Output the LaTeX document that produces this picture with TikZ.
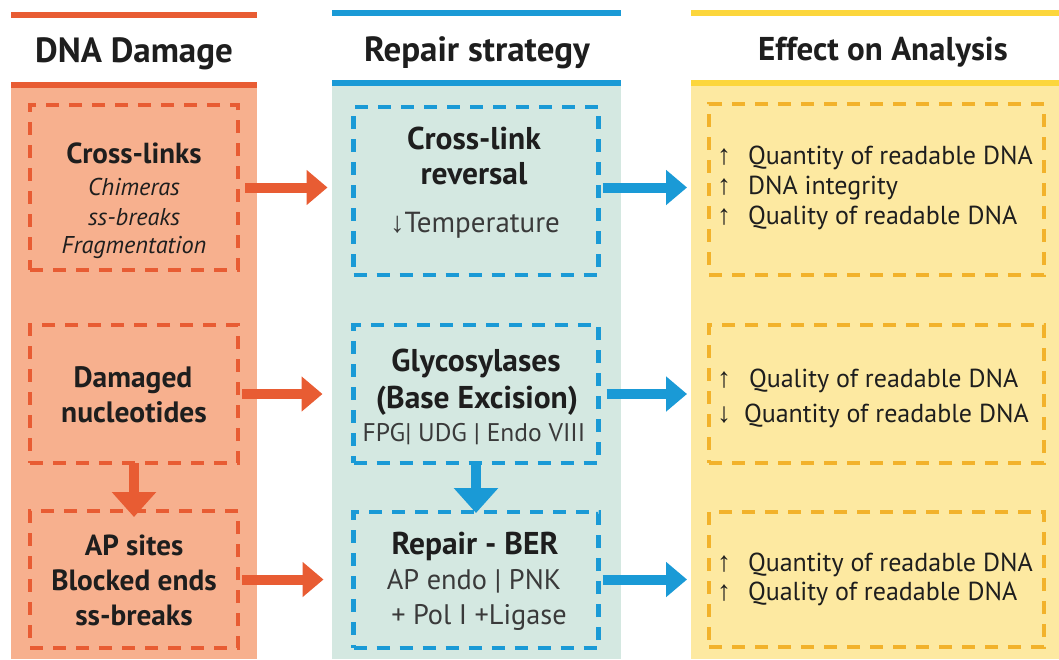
\documentclass[tikz,border=0pt]{standalone}
\usepackage{fontspec}
\setmainfont{PT Sans}
\newfontfamily\arrowfont{Liberation Sans}
\usetikzlibrary{arrows.meta,calc}
\definecolor{orangeline}{HTML}{E85C33}
\definecolor{leftfill}{HTML}{F7B08E}
\definecolor{blueline}{HTML}{1A9AD6}
\definecolor{midfill}{HTML}{D4E8E1}
\definecolor{yellowline}{HTML}{FCD63C}
\definecolor{rightfill}{HTML}{FDE9A1}
\definecolor{yellowdash}{HTML}{F2B22B}
\definecolor{darktext}{HTML}{1E1E1E}
\definecolor{graytext}{HTML}{3A3A3A}
\begin{document}
\begin{tikzpicture}[x=1pt,y=-1pt,
  every node/.style={inner sep=0pt, outer sep=0pt},
  bld/.style={font=\fontsize{#1}{#1}\selectfont\bfseries, text=darktext, text height={0.7*#1pt}, text depth=0pt},
  itl/.style={font=\fontsize{#1}{#1}\selectfont\itshape, text=darktext, text height={0.7*#1pt}, text depth=0pt},
  reg/.style={font=\fontsize{#1}{#1}\selectfont, text=graytext, text height={0.7*#1pt}, text depth=0pt},
  lst/.style={font=\fontsize{26}{28}\selectfont, text=darktext, text height=18.2pt, text depth=0pt, anchor=west},
  dbox/.style={draw, line width=4.5pt, dash pattern=on 13pt off 10pt, minimum width=#1},
  lbox/.style={dbox=208pt, draw=orangeline},
  mbox/.style={dbox=245pt, draw=blueline},
  rbox/.style={dbox=335pt, draw=yellowdash},
  harr/.style={line width=10pt, -{Triangle[length=21pt,width=34pt]}},
  varr/.style={line width=10pt, -{Triangle[length=25pt,width=43pt]}},
  hline/.style={line width=6pt}
]
\newcommand\upar{{\fontsize{28}{28}\arrowfont↑}}
\newcommand\dnar{{\fontsize{28}{28}\arrowfont↓}}
\useasboundingbox (0,0) rectangle (1059,659);
% column fills
\fill[leftfill] (11,88) rectangle (257,659);
\fill[midfill] (332,85) rectangle (621,659);
\fill[rightfill] (691,86) rectangle (1059,659);
% header lines
\draw[hline, orangeline] (11,14.5) -- (257,14.5);
\draw[hline, orangeline] (11,84.5) -- (257,84.5);
\draw[hline, blueline] (332,12.5) -- (621,12.5);
\draw[hline, blueline] (332,82.5) -- (621,82.5);
\draw[hline, yellowline] (691,12.5) -- (1059,12.5);
\draw[hline, yellowline] (691,82.5) -- (1059,82.5);
% headers
\node[bld=35] (h1) at (134,50) {DNA Damage};
\node[bld=35] (h2) at (477,49) {Repair strategy};
\node[bld=33] (h3) at (883,49) {Effect on Analysis};
% boxes
\node[lbox, minimum height=165pt] (lb1) at (134,187.5) {};
\node[lbox, minimum height=138pt] (lb2) at (134,394) {};
\node[lbox, minimum height=137pt] (lb3) at (134,579.5) {};
\node[mbox, minimum height=168pt] (mb1) at (476,191) {};
\node[mbox, minimum height=138pt] (mb2) at (476,394) {};
\node[mbox, minimum height=136pt] (mb3) at (476,580) {};
\node[rbox, minimum height=171pt] (rb1) at (876.5,189.5) {};
\node[rbox, minimum height=138pt] (rb2) at (876.5,394) {};
\node[rbox, minimum height=135pt] (rb3) at (876.5,579.5) {};
% left texts
\node[bld=29] (l1a) at (134,153) {Cross-links};
\node[itl=24.3] (l1b) at (134,187) {Chimeras};
\node[itl=24.3] (l1c) at (134,217) {ss-breaks};
\node[itl=24.3] (l1d) at (134,245) {Fragmentation};
\node[bld=29.5] (l2a) at (133,377) {Damaged};
\node[bld=29.5] (l2b) at (134,412) {nucleotides};
\node[bld=29] (l3a) at (134,545) {AP sites};
\node[bld=29.3] (l3b) at (134,580) {Blocked ends};
\node[bld=29.3] (l3c) at (134,615) {ss-breaks};
% middle texts
\node[bld=31.5] (m1a) at (474,138) {Cross-link};
\node[bld=31.5] (m1b) at (474,173) {reversal};
\node[reg=29] (m1c) at (475,222) {{\arrowfont↓}Temperature};
\node[bld=31.5] (m2a) at (476,360) {Glycosylases};
\node[bld=31.5] (m2b) at (477,397) {(Base Excision)};
\node[reg=25.5] (m2c) at (474,433) {FPG| UDG | Endo VIII};
\node[bld=31.5] (m3a) at (475,543) {Repair - BER};
\node[reg=28.3] (m3b) at (474,580) {AP endo | PNK};
\node[reg=28.3] (m3c) at (479,615) {+ Pol I +Ligase};
% right texts
\node[lst] (r1a) at (717,155) {\upar\hspace{17pt}Quantity of readable DNA};
\node[lst] (r1b) at (717,185) {\upar\hspace{17pt}DNA integrity};
\node[lst] (r1c) at (717,215) {\upar\hspace{17pt}Quality of readable DNA};
\node[lst] (r2a) at (717,378) {\upar\hspace{18pt}Quality of readable DNA};
\node[lst] (r2b) at (717,413) {\dnar\hspace{13pt}Quantity of readable DNA};
\node[lst] (r3a) at (717,562) {\upar\hspace{17pt}Quantity of readable DNA};
\node[lst] (r3b) at (717,591) {\upar\hspace{17pt}Quality of readable DNA};
% arrows left -> middle
\draw[harr, orangeline] ([xshift=7pt]lb1.east) -- ([xshift=-26pt]lb1.east -| mb1.west);
\draw[harr, orangeline] ([xshift=4pt]lb2.east) -- ([xshift=-31pt]lb2.east -| mb2.west);
\draw[harr, orangeline] ([xshift=4pt]lb3.east) -- ([xshift=-30pt]lb3.east -| mb3.west);
% arrows middle -> right
\draw[harr, blueline] ([xshift=4pt]mb1.east |- lb1.east) -- ([xshift=-22pt]lb1.east -| rb1.west);
\draw[harr, blueline] ([xshift=8pt]mb2.east |- lb2.east) -- ([xshift=-22pt]lb2.east -| rb2.west);
\draw[harr, blueline] ([xshift=4pt]mb3.east |- lb3.east) -- ([xshift=-22pt]lb3.east -| rb3.west);
% down arrows
\draw[varr, orangeline] (lb2.south) -- ([yshift=-6pt]lb3.north);
\draw[varr, blueline] (mb2.south) -- ([yshift=-1pt]mb3.north);
\end{tikzpicture}
\end{document}
